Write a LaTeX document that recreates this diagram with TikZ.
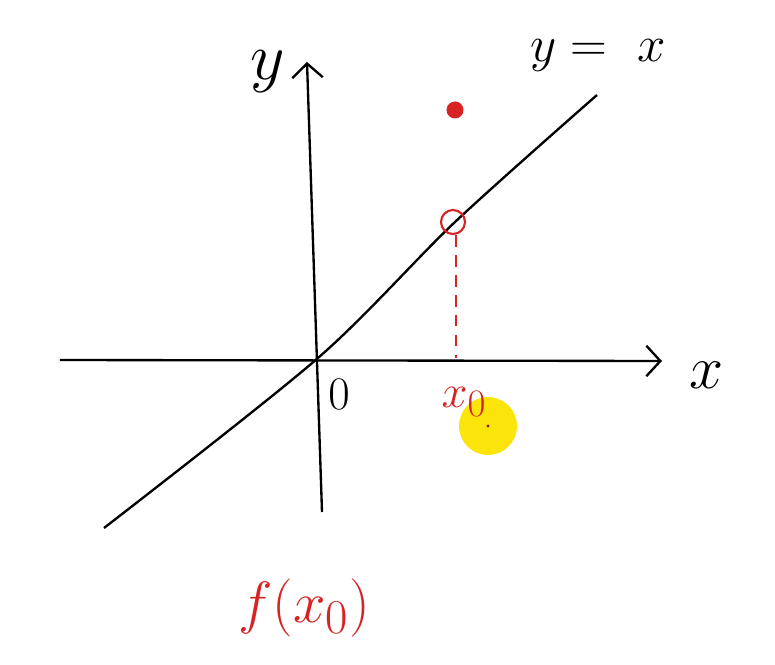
\documentclass[tikz,border=0pt]{standalone}
\usepackage{xcolor}
\usetikzlibrary{arrows.meta}
\usetikzlibrary{math}
\definecolor{pred}{RGB}{215,35,35}
\definecolor{pyellow}{RGB}{250,228,10}
\definecolor{pdark}{RGB}{120,30,20}

\begin{document}
\begin{tikzpicture}[x=0.03cm,y=0.03cm,
  axis/.style={line width=2pt, -{Straight Barb[length=12pt,width=26pt,line width=2pt]}},
  lbl/.style={inner sep=0pt, scale=#1},
  lbl/.default=2]
\tikzmath{
\xo=138;
\r=12;
}
\useasboundingbox (-318,-307) rectangle (457,358);

%axes
\coordinate (xs) at (-258,-2);
\coordinate (xe) at (344,-3);
\coordinate (ys) at (4,-154);
\coordinate (ye) at (-11,296);
\draw[axis] (xs) -- (xe);
\draw[axis] (ys) -- (ye);

%line y=x
\draw[line width=2pt] plot[smooth] coordinates {(-214,-170) (0,0) (137,136) (279,263)};

%points
\node[circle, fill=pred, minimum size=17*0.03cm, inner sep=0pt] (top) at (137,248) {};
\node[circle, draw=pred, line width=1.8pt, minimum size=2*\r*0.03cm, inner sep=0pt] (hole) at (135,136) {};
\coordinate (foot) at (\xo,0);
\draw[pred, line width=1.6pt, dash pattern=on 10pt off 7pt] (hole.south) ++(3,0) -- (foot);

%yellow marker
\node[circle, fill=pyellow, minimum size=58*0.03cm, inner sep=0pt] (mark) at (170,-68) {};
\fill[pdark] (mark.center) circle(1.3pt);

%labels
\node[lbl=2.3] (ylab) at (-50,286) {\Huge $y$};
\node[lbl=1.75] (yx) at (280,303) {\Huge $y=\ x$};
\node[lbl=2.1] (xlab) at (389,-17) {\Huge $x$};
\node[lbl=1.6] (zero) at (21,-36) {\Huge $0$};
\node[lbl=1.6, color=pred] (xolab) at (146,-44) {\Huge $x_0$};
\node[lbl=2, color=pred] (fx) at (-14,-250) {\Huge $f(x_0)$};

\end{tikzpicture}
\end{document}
